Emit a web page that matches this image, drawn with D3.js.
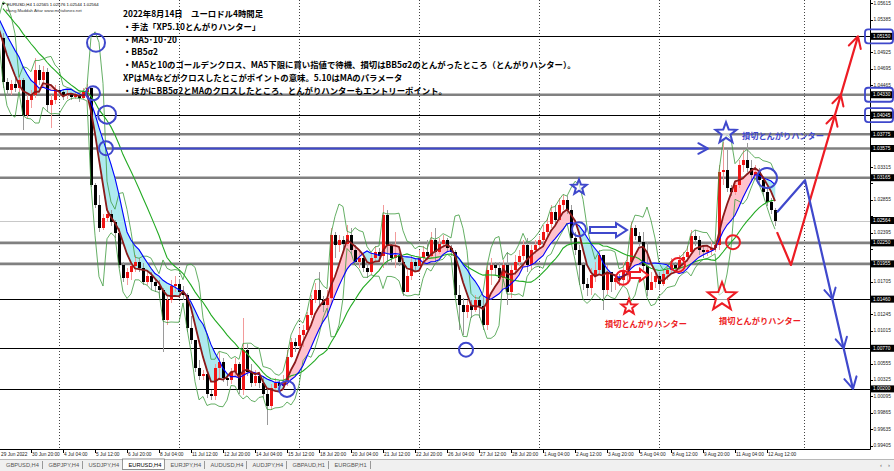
<!DOCTYPE html>
<html><head><meta charset="utf-8">
<script src="https://d3js.org/d3.v7.min.js"></script>
<style>html,body{margin:0;padding:0;background:#fff;overflow:hidden}svg{display:block}</style>
</head><body>
<svg id="chart" width="894" height="471"></svg>
<script>
// ================= DATA =================
const firstOpen = 1.0513;
const warmupClose = [1.0575,1.0580,1.0585,1.0578,1.0572,1.0565,1.0580,1.0595,1.0600,1.0570,1.0560,1.0550,1.0545,1.0548,1.0540,1.0530,1.0520,1.0515,1.0518];
const closeP = [
1.0451,1.0440,1.0448,1.0443,1.0454,1.0405,1.0426,1.0433,1.0468,1.0454,1.0465,1.0419,1.0426,1.0440,
1.0437,1.0432,1.0434,1.0430,1.0433,1.0429,1.0437,1.0443,1.0306,1.0278,1.0246,1.0260,
1.0266,1.0254,1.0239,1.0194,1.0176,1.0184,1.0193,1.0198,1.0190,1.0170,1.0179,1.0170,
1.0165,1.0159,1.0117,1.0145,1.0165,1.0167,1.0156,1.0152,1.0106,1.0089,1.0049,1.0038,
1.0041,1.0013,1.0010,1.0049,1.0058,1.0035,1.0032,1.0044,1.0055,1.0018,1.0075,1.0044,
1.0028,1.0038,1.0028,1.0013,0.9996,1.0021,1.0028,1.0024,1.0030,1.0065,1.0086,1.0080,
1.0096,1.0103,1.0124,1.0145,1.0159,1.0145,1.0138,1.0148,1.0236,1.0222,1.0229,1.0223,
1.0236,1.0215,1.0198,1.0204,1.0190,1.0184,1.0204,1.0212,1.0207,1.0264,1.0222,1.0204,
1.0208,1.0198,1.0156,1.0179,1.0198,1.0193,1.0204,1.0212,1.0207,1.0229,1.0212,1.0223,
1.0229,1.0218,1.0212,1.0152,1.0138,1.0128,1.0138,1.0131,1.0145,1.0136,1.0110,1.0187,
1.0194,1.0190,1.0176,1.0194,1.0156,1.0187,1.0198,1.0207,1.0222,1.0194,1.0215,1.0222,
1.0229,1.0240,1.0251,1.0268,1.0257,1.0278,1.0285,1.0271,1.0232,1.0215,1.0194,1.0167,
1.0162,1.0180,1.0187,1.0208,1.0159,1.0184,1.0170,1.0176,1.0173,1.0187,1.0198,1.0246,
1.0235,1.0226,1.0193,1.0159,1.0170,1.0179,1.0167,1.0181,1.0187,1.0194,1.0190,1.0201,
1.0205,1.0212,1.0235,1.0229,1.0215,1.0212,1.0215,1.0218,1.0222,1.0325,1.0327,1.0302,
1.0296,1.0306,1.0334,1.0341,1.0330,1.0320,1.0325,1.0313,1.0296,1.0282,1.0271,1.0256];
const highP = [
1.0520,1.0457,1.0454,1.0457,1.0461,1.0457,1.0433,1.0440,1.0485,1.0475,1.0473,1.0471,1.0433,1.0447,
1.0445,1.0440,1.0440,1.0436,1.0437,1.0436,1.0443,1.0448,1.0440,1.0309,1.0292,1.0266,
1.0274,1.0271,1.0257,1.0246,1.0198,1.0190,1.0198,1.0208,1.0204,1.0197,1.0187,1.0184,
1.0176,1.0173,1.0162,1.0151,1.0173,1.0179,1.0174,1.0165,1.0155,1.0123,1.0086,1.0061,
1.0047,1.0044,1.0018,1.0055,1.0072,1.0063,1.0041,1.0049,1.0063,1.0058,1.0120,1.0083,
1.0055,1.0047,1.0041,1.0038,1.0021,1.0027,1.0035,1.0032,1.0039,1.0075,1.0091,1.0091,
1.0106,1.0110,1.0128,1.0152,1.0169,1.0184,1.0151,1.0159,1.0246,1.0240,1.0236,1.0235,
1.0250,1.0246,1.0222,1.0212,1.0208,1.0198,1.0212,1.0221,1.0218,1.0278,1.0271,1.0225,
1.0240,1.0212,1.0204,1.0187,1.0208,1.0204,1.0215,1.0221,1.0229,1.0240,1.0246,1.0232,
1.0236,1.0232,1.0222,1.0215,1.0166,1.0148,1.0145,1.0145,1.0152,1.0150,1.0152,1.0194,
1.0204,1.0198,1.0198,1.0201,1.0212,1.0194,1.0208,1.0215,1.0229,1.0232,1.0222,1.0229,
1.0235,1.0250,1.0260,1.0278,1.0278,1.0288,1.0292,1.0291,1.0278,1.0240,1.0222,1.0198,
1.0176,1.0190,1.0198,1.0215,1.0208,1.0194,1.0179,1.0181,1.0181,1.0198,1.0207,1.0254,
1.0250,1.0240,1.0240,1.0226,1.0184,1.0187,1.0184,1.0187,1.0195,1.0204,1.0198,1.0208,
1.0212,1.0221,1.0243,1.0243,1.0235,1.0221,1.0222,1.0226,1.0229,1.0334,1.0367,1.0355,
1.0306,1.0313,1.0341,1.0355,1.0365,1.0341,1.0334,1.0330,1.0319,1.0302,1.0288,1.0274];
const lowP = [
1.0443,1.0433,1.0432,1.0437,1.0437,1.0383,1.0401,1.0415,1.0429,1.0447,1.0445,1.0409,1.0386,1.0420,
1.0432,1.0426,1.0427,1.0426,1.0427,1.0423,1.0427,1.0433,1.0303,1.0274,1.0240,1.0243,
1.0254,1.0249,1.0232,1.0190,1.0170,1.0166,1.0173,1.0184,1.0184,1.0166,1.0166,1.0159,
1.0156,1.0148,1.0072,1.0109,1.0141,1.0156,1.0151,1.0145,1.0100,1.0083,1.0044,1.0032,
1.0032,1.0007,1.0004,1.0004,1.0032,1.0030,1.0024,1.0027,1.0038,1.0013,1.0011,1.0038,
1.0023,1.0024,1.0021,1.0007,0.9969,0.9990,1.0016,1.0016,1.0018,1.0024,1.0063,1.0072,
1.0075,1.0079,1.0100,1.0120,1.0141,1.0138,1.0128,1.0131,1.0138,1.0204,1.0212,1.0215,
1.0221,1.0209,1.0193,1.0190,1.0184,1.0176,1.0180,1.0198,1.0198,1.0190,1.0194,1.0198,
1.0190,1.0193,1.0151,1.0159,1.0173,1.0184,1.0193,1.0198,1.0201,1.0204,1.0198,1.0209,
1.0218,1.0212,1.0207,1.0148,1.0103,1.0096,1.0120,1.0120,1.0128,1.0120,1.0103,1.0103,
1.0166,1.0180,1.0170,1.0170,1.0138,1.0148,1.0180,1.0193,1.0201,1.0184,1.0187,1.0209,
1.0218,1.0223,1.0235,1.0246,1.0250,1.0254,1.0271,1.0266,1.0226,1.0208,1.0166,1.0159,
1.0150,1.0152,1.0170,1.0180,1.0131,1.0153,1.0156,1.0159,1.0165,1.0166,1.0170,1.0193,
1.0229,1.0221,1.0187,1.0150,1.0159,1.0162,1.0159,1.0165,1.0173,1.0181,1.0184,1.0187,
1.0195,1.0198,1.0208,1.0221,1.0208,1.0204,1.0207,1.0208,1.0212,1.0215,1.0306,1.0296,
1.0291,1.0292,1.0302,1.0325,1.0325,1.0313,1.0316,1.0306,1.0291,1.0277,1.0266,1.0249];

const priceTicks = [1.05615,1.05385,1.05155,1.04925,1.04695,1.04465,1.04235,1.04005,1.03775,1.03545,1.03315,1.03085,1.02855,1.02625,1.02395,1.02165,1.01935,1.01705,1.01475,1.01245,1.01015,1.00785,1.00555,1.00325,1.00095,0.99865,0.99635,0.99405];
const timeLabels = ["29 Jun 2022","30 Jun 20:00","4 Jul 04:00","5 Jul 12:00","6 Jul 20:00","8 Jul 04:00","11 Jul 12:00","12 Jul 20:00","14 Jul 04:00","15 Jul 12:00","18 Jul 20:00","20 Jul 04:00","21 Jul 12:00","22 Jul 20:00","26 Jul 04:00","27 Jul 12:00","28 Jul 20:00","1 Aug 04:00","2 Aug 12:00","3 Aug 20:00","5 Aug 04:00","8 Aug 12:00","9 Aug 20:00","11 Aug 04:00","12 Aug 12:00"];
const blackLevels = [1.05150,1.04045,1.01460,1.00770,1.00200];
const grayLevels = [1.04330,1.03775,1.03575,1.03165,1.02250,1.01955];
const bidPrice = 1.02564;
const separatorBars = [14,44,74,104,134,164,200.25];
const tabs = ["GBPUSD,H4","GBPJPY,H4","USDJPY,H4","EURUSD,H4","EURJPY,H4","AUDUSD,H4","AUDJPY,H4","GBPAUD,H1","EURGBP,H1"];
const activeTab = "EURUSD,H4";
const headerText = "EURUSD,H4  1.02565 1.02576 1.02544 1.02564";
const creditText = "Hang.Maddah Attar    www.metafonex.net";
const noteLines = [
 "2022年8月14日　ユーロドル4時間足",
 "・手法「XP5.10とんがりハンター」",
 "・MA5･10･20",
 "・BB5σ2",
 "・MA5と10のゴールデンクロス、MA5下限に買い指値で待機、損切はBB5σ2のとんがったところ（とんがりハンター）。",
 "XPはMAなどがクロスしたとこがポイントの意味。5.10はMAのパラメータ",
 "・ほかにBB5σ2とMAのクロスしたところ、とんがりハンターもエントリーポイント。"];
// annotations (bar index, price)
const blueCircleBars   = [23.25,22.5,26,25.75,71,115.75,144,191];
const blueCirclePrices = [1.0506,1.0435,1.0405,1.0358,1.0020,1.0075,1.0244,1.0316];
const redCircleBars    = [155,168.75,182.5];
const redCirclePrices  = [1.0176,1.0194,1.0226];
const blueStarBars = [144,180.75], blueStarPrices = [1.0303,1.0379];
const redStarBars  = [156.5,179.75], redStarPrices = [1.0135,1.0149];
const stopLabel = "損切とんがりハンター";
const blueLabelBars = [184.75], blueLabelPrices = [1.0376];
const redLabelBars = [150.5,179], redLabelPrices = [1.0113,1.0117];
const arrowLineBars = [27.5,176.25], arrowLinePrice = 1.03575;
const blueBlockBars = [146.75,156], blueBlockPrice = 1.0243;
const redBlockBars = [156.75,161.25], redBlockPrice = 1.0180;
const redZigBars = [193.5,197,213.75], redZigPrices = [1.0240,1.0194,1.05150];
const redZigMarks = [1.04330,1.04045];
const blueZigBars = [193.5,200.5,212.5], blueZigPrices = [1.0268,1.0313,1.00200];
const blueZigMarks = [1.01460,1.00770];
const boxedAxisLevels = [1.05150,1.04330,1.04045];

// ================= DRAW =================
const PR = 870, PB = 449;
const BLUE = "#3F48CC", RED = "#ED1C24";
const svg = d3.select("#chart");
const x = d3.scaleLinear().domain([0,193]).range([3,775]);
const y = d3.scaleLinear().domain([0.99356,1.0566]).range([PB,0]);

svg.append("rect").attr("width",894).attr("height",471).attr("fill","#fff");
svg.append("defs").append("clipPath").attr("id","plot").append("rect").attr("x",0).attr("y",0).attr("width",PR).attr("height",PB);
const plot = svg.append("g").attr("clip-path","url(#plot)");

// period separators
plot.selectAll("line.sep").data(separatorBars).join("line")
  .attr("x1",d=>Math.round(x(d))+0.5).attr("x2",d=>Math.round(x(d))+0.5).attr("y1",0).attr("y2",PB)
  .attr("stroke","#444").attr("stroke-width",1).attr("stroke-dasharray","1,2");

// horizontal levels
plot.append("line").attr("x1",0).attr("x2",PR).attr("y1",Math.round(y(bidPrice))+0.5).attr("y2",Math.round(y(bidPrice))+0.5).attr("stroke","#c8c8c8");
plot.selectAll("line.gl").data(grayLevels).join("line")
  .attr("x1",0).attr("x2",PR).attr("y1",d=>y(d)).attr("y2",d=>y(d)).attr("stroke","#808080").attr("stroke-width",2.6);
plot.selectAll("line.bl").data(blackLevels).join("line")
  .attr("x1",0).attr("x2",PR).attr("y1",d=>Math.round(y(d))+0.5).attr("y2",d=>Math.round(y(d))+0.5).attr("stroke","#000").attr("stroke-width",1);

// indicators
const allClose = warmupClose.concat(closeP);
const W0 = warmupClose.length;
function sma(n,k){ if(k-n+1<0) return null; let s=0; for(let j=k-n+1;j<=k;j++) s+=allClose[j]; return s/n; }
function sd(n,k){ const m=sma(n,k); if(m===null) return null; let s=0; for(let j=k-n+1;j<=k;j++) s+=(allClose[j]-m)**2; return Math.sqrt(s/n); }
const ind = allClose.map((c,k)=>({bar:k-W0, ma5:sma(5,k), ma10:sma(10,k), ma20:sma(20,k), sd5:sd(5,k)}));

// fill between MA5 and MA10
const fillG = plot.append("g");
const fv = ind.filter(d=>d.ma10!==null);
for(let j=0;j<fv.length-1;j++){
  const a=fv[j], b=fv[j+1];
  const ax=x(a.bar), bx=x(b.bar);
  const a5=y(a.ma5), a10=y(a.ma10), b5=y(b.ma5), b10=y(b.ma10);
  const da=a.ma5-a.ma10, db=b.ma5-b.ma10;
  const col = v => v>=0 ? "#FFC2CC" : "#AEEAF0";
  if(da*db>=0){
    fillG.append("path").attr("d",`M${ax},${a5}L${bx},${b5}L${bx},${b10}L${ax},${a10}Z`).attr("fill",col(da+db)).attr("stroke",col(da+db)).attr("stroke-width",0.6);
  } else {
    const t=da/(da-db), cx=ax+t*(bx-ax), cy=a5+t*(b5-a5);
    fillG.append("path").attr("d",`M${ax},${a5}L${cx},${cy}L${ax},${a10}Z`).attr("fill",col(da)).attr("stroke",col(da)).attr("stroke-width",0.6);
    fillG.append("path").attr("d",`M${cx},${cy}L${bx},${b5}L${bx},${b10}Z`).attr("fill",col(db)).attr("stroke",col(db)).attr("stroke-width",0.6);
  }
}

// candles
const candles = closeP.map((c,i)=>({i, o: i===0?firstOpen:closeP[i-1], h:highP[i], l:lowP[i], c}));
const cg = plot.append("g").attr("shape-rendering","crispEdges");
cg.selectAll("line").data(candles).join("line")
  .attr("x1",d=>Math.round(x(d.i))+0.5).attr("x2",d=>Math.round(x(d.i))+0.5)
  .attr("y1",d=>y(Math.max(d.h,d.o,d.c))).attr("y2",d=>y(Math.min(d.l,d.o,d.c)))
  .attr("stroke",d=>d.c>=d.o?"#f29a9a":"#9a9a9a");
cg.selectAll("rect").data(candles).join("rect")
  .attr("x",d=>Math.round(x(d.i))-1).attr("width",3)
  .attr("y",d=>y(Math.max(d.o,d.c))).attr("height",d=>Math.max(1,y(Math.min(d.o,d.c))-y(Math.max(d.o,d.c))))
  .attr("fill",d=>d.c>=d.o?"#F01414":"#000");

// lines
const lineOf = key => d3.line().defined(d=>d[key]!==null).x(d=>x(d.bar)).y(d=>y(d[key]));
const bbU = ind.map(d=>({bar:d.bar, v: d.ma5===null?null:d.ma5+2*d.sd5}));
const bbL = ind.map(d=>({bar:d.bar, v: d.ma5===null?null:d.ma5-2*d.sd5}));
const lv = d3.line().defined(d=>d.v!==null).x(d=>x(d.bar)).y(d=>y(d.v));
plot.append("path").attr("d",lv(bbU)).attr("fill","none").attr("stroke","#3d9b3d").attr("stroke-width",0.8);
plot.append("path").attr("d",lv(bbL)).attr("fill","none").attr("stroke","#3d9b3d").attr("stroke-width",0.8);
plot.append("path").attr("d",lineOf("ma20")(ind)).attr("fill","none").attr("stroke","#22aa22").attr("stroke-width",1.1);
plot.append("path").attr("d",lineOf("ma10")(ind)).attr("fill","none").attr("stroke","#0000ff").attr("stroke-width",1.1);
plot.append("path").attr("d",lineOf("ma5")(ind)).attr("fill","none").attr("stroke","#8B1A1A").attr("stroke-width",1.8);

// ===== annotations =====
const ann = svg.append("g");
function chevron(g, tx, ty, dx, dy, len, col){
  const n=Math.hypot(dx,dy); dx/=n; dy/=n; const a=0.5;
  const r=(vx,vy,t)=>[vx*Math.cos(t)-vy*Math.sin(t), vx*Math.sin(t)+vy*Math.cos(t)];
  const p1=r(-dx,-dy,a), p2=r(-dx,-dy,-a);
  g.append("path").attr("d",`M${tx+p1[0]*len},${ty+p1[1]*len}L${tx},${ty}L${tx+p2[0]*len},${ty+p2[1]*len}`)
   .attr("fill","none").attr("stroke",col).attr("stroke-width",2).attr("stroke-linecap","round").attr("stroke-linejoin","round");
}
{
  const x0=x(arrowLineBars[0]), x1=x(arrowLineBars[1]), yy=y(arrowLinePrice);
  ann.append("line").attr("x1",x0).attr("x2",x1).attr("y1",yy).attr("y2",yy).attr("stroke",BLUE).attr("stroke-width",2);
  chevron(ann,x1,yy,1,0,11,BLUE);
}
const circ = (bars,prices,radii,col)=>bars.forEach((b,k)=>ann.append("circle").attr("cx",x(b)).attr("cy",y(prices[k])).attr("r",radii[k]).attr("fill","none").attr("stroke",col).attr("stroke-width",2));
circ(blueCircleBars,blueCirclePrices,[9,7,9,7,8,7,7,10],BLUE);
circ(redCircleBars,redCirclePrices,[7,7,7],RED);
function star(cx,cy,R,col){
  const pts=d3.range(10).map(k=>{const a=-Math.PI/2+k*Math.PI/5, rr=k%2?R*0.42:R; return [cx+rr*Math.cos(a), cy+rr*Math.sin(a)];});
  ann.append("path").attr("d","M"+pts.join("L")+"Z").attr("fill","#fff").attr("fill-opacity",0.6).attr("stroke",col).attr("stroke-width",2).attr("stroke-linejoin","miter");
}
blueStarBars.forEach((b,k)=>star(x(b),y(blueStarPrices[k]),[8,11][k],BLUE));
redStarBars.forEach((b,k)=>star(x(b),y(redStarPrices[k]),[8,15][k],RED));
function blockArrow(x0,x1,cy,h1,h2,L,col){
  ann.append("path").attr("d",`M${x0},${cy-h1}L${x1-L},${cy-h1}L${x1-L},${cy-h2}L${x1},${cy}L${x1-L},${cy+h2}L${x1-L},${cy+h1}L${x0},${cy+h1}Z`)
   .attr("fill","#fff").attr("stroke",col).attr("stroke-width",2).attr("stroke-linejoin","miter");
}
blockArrow(x(blueBlockBars[0]),x(blueBlockBars[1]),y(blueBlockPrice),3,7,11,BLUE);
blockArrow(x(redBlockBars[0]),x(redBlockBars[1]),y(redBlockPrice),3,6,8,RED);
const label = (bars,prices,col)=>bars.forEach((b,k)=>ann.append("text").attr("x",x(b)).attr("y",y(prices[k])).attr("dominant-baseline","central")
  .attr("font-family","'Noto Sans CJK JP',sans-serif").attr("font-weight",700).attr("font-size",8.2).attr("fill",col).text(stopLabel));
label(blueLabelBars,blueLabelPrices,BLUE);
label(redLabelBars,redLabelPrices,RED);
function zig(bars,prices,marks,col){
  const pts=bars.map((b,k)=>[x(b),y(prices[k])]);
  ann.append("path").attr("d","M"+pts.join("L")).attr("fill","none").attr("stroke",col).attr("stroke-width",2.2).attr("stroke-linejoin","round");
  const a=pts[1], b=pts[2], dx=b[0]-a[0], dy=b[1]-a[1];
  chevron(ann,b[0],b[1],dx,dy,13,col);
  marks.forEach(m=>{const t=(y(m)-a[1])/dy; chevron(ann,a[0]+t*dx,y(m),dx,dy,12,col);});
}
zig(redZigBars,redZigPrices,redZigMarks,RED);
zig(blueZigBars,blueZigPrices,blueZigMarks,BLUE);

// ===== axes =====
const ax = svg.append("g").attr("font-family","'Liberation Sans',Arial,sans-serif");
ax.append("line").attr("x1",PR+0.5).attr("x2",PR+0.5).attr("y1",0).attr("y2",PB+0.5).attr("stroke","#000");
ax.append("line").attr("x1",0).attr("x2",PR+0.5).attr("y1",PB+0.5).attr("y2",PB+0.5).attr("stroke","#000");
const boxed = [...blackLevels, ...grayLevels, bidPrice];
const freeTicks = priceTicks.filter(p=>boxed.every(b=>Math.abs(y(b)-y(p))>7));
ax.selectAll("line.pt").data(priceTicks).join("line").attr("class","pt")
  .attr("x1",PR).attr("x2",PR+3).attr("y1",d=>Math.round(y(d))+0.5).attr("y2",d=>Math.round(y(d))+0.5).attr("stroke","#000");
ax.selectAll("text.pt").data(freeTicks).join("text").attr("class","pt")
  .attr("x",PR+3.5).attr("y",d=>y(d)).attr("dominant-baseline","central").attr("font-size",4.8).attr("fill","#222").text(d=>d.toFixed(5));
ax.selectAll("rect.bx").data(boxed).join("rect").attr("class","bx")
  .attr("x",PR+1).attr("width",23).attr("y",d=>y(d)-3.5).attr("height",7).attr("fill","#000");
ax.selectAll("text.bx").data(boxed).join("text").attr("class","bx")
  .attr("x",PR+3).attr("y",d=>y(d)).attr("dominant-baseline","central").attr("font-size",4.8).attr("fill","#fff").text(d=>d.toFixed(5));
ax.selectAll("rect.blue").data(boxedAxisLevels).join("rect").attr("class","blue")
  .attr("x",PR-5).attr("width",28).attr("y",d=>y(d)-7).attr("height",14).attr("rx",3)
  .attr("fill","none").attr("stroke",BLUE).attr("stroke-width",1.8);
timeLabels.forEach((t,k)=>{
  const xb = x(-1+8*k), xt = Math.max(0.5, Math.round(xb)+0.5);
  if(k>0) ax.append("line").attr("x1",xt).attr("x2",xt).attr("y1",PB).attr("y2",PB+4).attr("stroke","#000");
  ax.append("text").attr("x",Math.max(0,xb)+1).attr("y",454).attr("dominant-baseline","central").attr("font-size",4.8).attr("fill","#222").text(t);
});

// ===== tab bar =====
const tb = svg.append("g").attr("font-family","'Liberation Sans',Arial,sans-serif");
tb.append("rect").attr("x",0).attr("y",459).attr("width",894).attr("height",12).attr("fill","#f0f0f0");
tb.append("line").attr("x1",0).attr("x2",894).attr("y1",459.5).attr("y2",459.5).attr("stroke","#b8b8b8");
let tx = 6;
tabs.forEach(name=>{
  const active = name===activeTab;
  const t = tb.append("text").attr("x",tx).attr("y",465).attr("dominant-baseline","central").attr("font-size",5.7).attr("fill",active?"#000":"#555").text(name);
  const w = t.node().getComputedTextLength();
  if(active){
    tb.insert("rect","text").attr("x",tx-6).attr("y",459).attr("width",w+9).attr("height",10.5).attr("fill","#fff").attr("stroke","#777").attr("stroke-width",0.8);
  }
  const sx = Math.round(tx+w+3)+0.5;
  tb.append("line").attr("x1",sx).attr("x2",sx).attr("y1",461).attr("y2",469).attr("stroke","#999");
  tx = sx + 6;
});
tb.append("text").attr("x",880).attr("y",465).attr("dominant-baseline","central").attr("font-size",6).attr("fill","#555").text("‹");
tb.append("text").attr("x",888).attr("y",465).attr("dominant-baseline","central").attr("font-size",6).attr("fill","#555").text("›");

// ===== header + notes =====
const hd = svg.append("g").attr("font-family","'Liberation Sans',Arial,sans-serif");
hd.append("path").attr("d","M2,3L5,3L3.5,5Z").attr("fill","#000");
hd.append("text").attr("x",7).attr("y",4.2).attr("dominant-baseline","central").attr("font-size",4.3).attr("fill","#000").text(headerText);
hd.append("text").attr("x",6).attr("y",10).attr("dominant-baseline","central").attr("font-size",4.3).attr("fill","#333").text(creditText);
const notes = svg.append("g").attr("font-family","'Noto Sans CJK JP',sans-serif").attr("font-weight",700).attr("font-size",8.4).attr("fill","#000");
noteLines.forEach((s,k)=>notes.append("text").attr("x",123).attr("y",13.3+12.7*k).attr("dominant-baseline","central").text(s));
</script>
</body></html>
